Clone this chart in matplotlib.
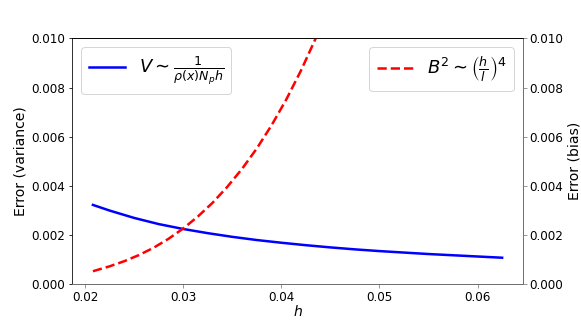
import matplotlib
matplotlib.use("Agg")
import matplotlib.pyplot as plt

# values
h_var = [0.0208, 0.0225, 0.025, 0.0275, 0.030, 0.0325, 0.035, 0.0375, 0.040,
         0.0425, 0.045, 0.0475, 0.050, 0.0525, 0.055, 0.0575, 0.060, 0.0625]
variance = [0.00322, 0.00299, 0.00269, 0.00244, 0.00224, 0.00207, 0.00192,
            0.00179, 0.00168, 0.00158, 0.00149, 0.00141, 0.00134, 0.00128,
            0.00122, 0.00117, 0.00112, 0.00107]

h_bias = [0.0208, 0.0225, 0.024, 0.0255, 0.027, 0.0285, 0.030, 0.0315, 0.033,
          0.0345, 0.036, 0.0375, 0.039, 0.0405, 0.042, 0.0435, 0.045]
bias = [0.00052, 0.00072, 0.00093, 0.00118, 0.00148, 0.00184, 0.00226,
        0.00275, 0.00331, 0.00396, 0.00469, 0.00552, 0.00646, 0.00751,
        0.00869, 0.01000, 0.01145]

fig = plt.figure(figsize=(581 / 72, 320 / 72), dpi=72)
ax = fig.add_axes([0.1245, 0.1125, 0.7752, 0.7675])
ax2 = ax.twinx()

ax.plot(h_var, variance, color="blue", lw=2.5,
        label=r"$V \sim \frac{1}{\rho(x) N_p h}$")
ax2.plot(h_bias, bias, color="red", lw=2.5, ls="--",
         label=r"$B^2 \sim \left(\frac{h}{l}\right)^4$")

ax.set_xlim(0.0187, 0.0646)
ax.set_ylim(0, 0.01)
ax2.set_ylim(0, 0.01)
yt = [0, 0.002, 0.004, 0.006, 0.008, 0.010]
ylabels = ["0.000", "0.002", "0.004", "0.006", "0.008", "0.010"]
ax.set_xticks([0.02, 0.03, 0.04, 0.05, 0.06])
ax.set_yticks(yt)
ax2.set_yticks(yt)
ax.set_yticklabels(ylabels)
ax2.set_yticklabels(ylabels)

for a in (ax, ax2):
    a.tick_params(labelsize=12)
ax.set_xlabel("$h$", fontsize=14, labelpad=0)
ax.set_ylabel("Error (variance)", fontsize=14)
ax2.set_ylabel("Error (bias)", fontsize=14)

ax2.spines["right"].set_color("gray")
ax2.spines["bottom"].set_color("gray")
ax2.spines["left"].set_visible(False)
ax2.tick_params(axis="y", color="gray")
ax.tick_params(axis="x", color="gray")

ax.legend(loc="upper left", fontsize=18)
ax2.legend(loc="upper right", fontsize=18)

fig.savefig("out.png", dpi=72)
